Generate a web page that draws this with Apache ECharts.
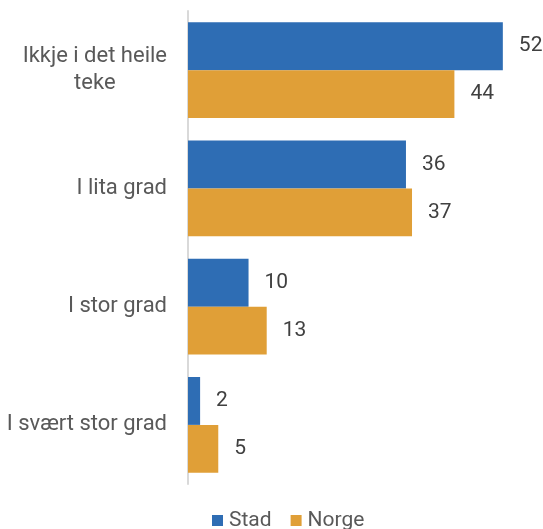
<!DOCTYPE html>
<html>
<head>
<meta charset="utf-8">
<script src="https://cdn.jsdelivr.net/npm/echarts@6/dist/echarts.min.js"></script>
<style>
  html, body { margin: 0; padding: 0; background: #fff; }
  #chart { width: 543px; height: 529px; }
</style>
</head>
<body>
<div id="chart"></div>
<script>
// Answer categories, top to bottom
const categories = ['Ikkje i det heile\nteke', 'I lita grad', 'I stor grad', 'I svært stor grad'];
// Share (%) per answer
const stadValues = [52, 36, 10, 2];
const norgeValues = [44, 37, 13, 5];
const seriesNames = ['Stad', 'Norge'];

const FONT = 'Roboto, "Liberation Sans", sans-serif';

const chart = echarts.init(document.getElementById('chart'), null, { renderer: 'canvas' });

function barSeries(name, data, color) {
  return {
    name: name,
    type: 'bar',
    data: data,
    barGap: '0%',
    barCategoryGap: '19%',
    itemStyle: { color: color },
    label: {
      show: true,
      position: 'right',
      distance: 16,
      color: '#404040',
      fontSize: 21,
      fontFamily: FONT
    }
  };
}

chart.setOption({
  animation: false,
  grid: { left: 188, right: 22, top: 11, bottom: 45, containLabel: false },
  legend: {
    data: seriesNames,
    bottom: -7,
    left: 207,
    icon: 'rect',
    itemWidth: 11,
    itemHeight: 11,
    itemGap: 19,
    textStyle: { color: '#595959', fontSize: 21, fontFamily: FONT, padding: [0, 0, 0, 1] }
  },
  xAxis: {
    type: 'value',
    min: 0,
    max: 55,
    show: false
  },
  yAxis: {
    type: 'category',
    data: categories,
    inverse: true,
    axisLine: { show: true, lineStyle: { color: '#d9d9d9', width: 2 } },
    axisTick: { show: false },
    axisLabel: {
      margin: 21,
      color: '#595959',
      fontSize: 22,
      fontFamily: FONT,
      lineHeight: 27,
      formatter: function (v) { return '{c|' + v.split('\n').join('}\n{c|') + '}'; },
      rich: { c: { align: 'center', color: '#595959', fontSize: 22, fontFamily: FONT, lineHeight: 27 } }
    }
  },
  series: [
    barSeries(seriesNames[0], stadValues, '#2E6DB4'),
    barSeries(seriesNames[1], norgeValues, '#E09F37')
  ]
});
</script>
</body>
</html>
